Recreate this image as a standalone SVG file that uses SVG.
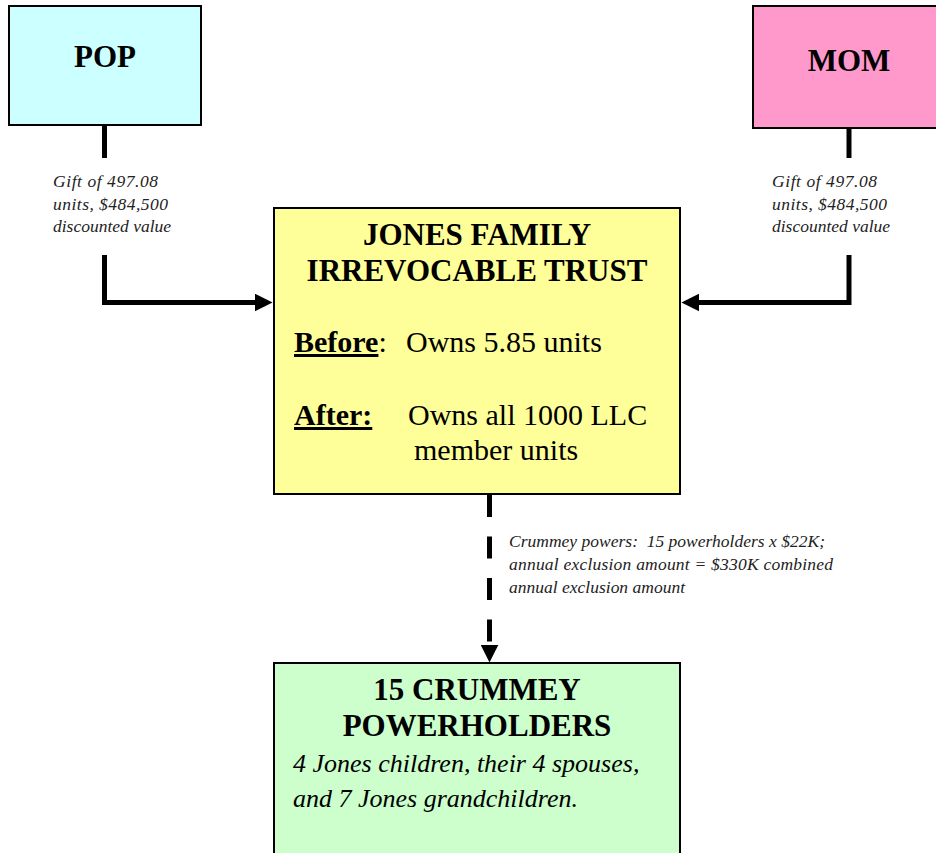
<svg xmlns="http://www.w3.org/2000/svg" width="936" height="853" viewBox="0 0 936 853">
  <style>
    .box { stroke: #000; stroke-width: 2; }
    .title { font-family: "Liberation Serif", "Times New Roman", serif; font-weight: bold; font-size: 31px; fill: #000; text-anchor: middle; }
    .body { font-family: "Liberation Serif", "Times New Roman", serif; font-size: 30px; fill: #000; }
    .ital { font-family: "Liberation Serif", "Times New Roman", serif; font-style: italic; font-size: 26px; fill: #000; }
    .note { font-family: "Liberation Serif", "Times New Roman", serif; font-style: italic; font-size: 17.5px; fill: #222; }
    .cnote { font-family: "Liberation Serif", "Times New Roman", serif; font-style: italic; font-size: 17.5px; fill: #222; }
    .conn { stroke: #000; stroke-width: 5; fill: none; }
  </style>
  <defs>
    <marker id="arrow" markerUnits="userSpaceOnUse" markerWidth="18" markerHeight="18" viewBox="0 0 17 17" refX="7" refY="8.5" orient="auto">
      <path d="M0,0 L17,8.5 L0,17 Z" fill="#000"/>
    </marker>
  </defs>
  <rect width="936" height="853" fill="#fff"/>

  <g id="pop">
    <rect class="box" x="9" y="6" width="192" height="119" fill="#CCFFFF"/>
    <text class="title" x="105" y="67">POP</text>
  </g>

  <g id="mom">
    <rect class="box" x="753" y="6" width="200" height="122" fill="#FF99CC"/>
    <text class="title" x="849" y="71">MOM</text>
  </g>

  <g id="trust">
    <rect class="box" x="274" y="208" width="406" height="286" fill="#FFFF99"/>
    <text class="title" x="477" y="245">JONES FAMILY</text>
    <text class="title" x="477" y="281">IRREVOCABLE TRUST</text>
    <text class="body" x="294" y="352"><tspan font-weight="bold" text-decoration="underline">Before</tspan><tspan>:</tspan><tspan x="406">Owns 5.85 units</tspan></text>
    <text class="body" x="294" y="425"><tspan font-weight="bold" text-decoration="underline">After:</tspan><tspan x="408">Owns all 1000 LLC</tspan></text>
    <text class="body" x="414" y="460">member units</text>
  </g>

  <g id="crummey">
    <rect class="box" x="274" y="663" width="406" height="200" fill="#CCFFCC"/>
    <text class="title" x="477" y="700">15 CRUMMEY</text>
    <text class="title" x="477" y="736">POWERHOLDERS</text>
    <text class="ital" x="293" y="772">4 Jones children, their 4 spouses,</text>
    <text class="ital" x="293" y="807">and 7 Jones grandchildren.</text>
  </g>

  <g id="connectors">
    <line class="conn" x1="104.5" y1="126" x2="104.5" y2="158"/>
    <polyline class="conn" points="104.5,255 104.5,302.5 262,302.5" marker-end="url(#arrow)"/>
    <line class="conn" x1="849" y1="129" x2="849" y2="158"/>
    <polyline class="conn" points="849,255 849,302.5 692,302.5" marker-end="url(#arrow)"/>
    <line class="conn" x1="489.5" y1="495" x2="489.5" y2="652" stroke-dasharray="22 19.5" marker-end="url(#arrow)"/>
  </g>

  <g id="labels">
    <text class="note" x="53" y="187" textLength="105">Gift of 497.08</text>
    <text class="note" x="53" y="210" textLength="115">units, $484,500</text>
    <text class="note" x="53" y="232">discounted value</text>
    <text class="note" x="772" y="187" textLength="105">Gift of 497.08</text>
    <text class="note" x="772" y="210" textLength="115">units, $484,500</text>
    <text class="note" x="772" y="232">discounted value</text>
    <text class="cnote" x="509" y="547" xml:space="preserve" textLength="316">Crummey powers:  15 powerholders x $22K;</text>
    <text class="cnote" x="509" y="570" textLength="324">annual exclusion amount = $330K combined</text>
    <text class="cnote" x="509" y="593" textLength="176">annual exclusion amount</text>
  </g>
</svg>
